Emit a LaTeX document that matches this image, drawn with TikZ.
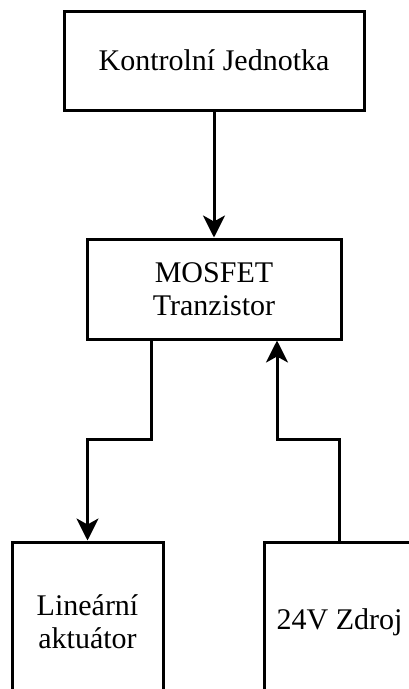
\documentclass[tikz,border=0pt]{standalone}
\usepackage{fontspec}
\setmainfont{Liberation Serif}
\usetikzlibrary{arrows.meta}
\begin{document}
\begin{tikzpicture}[x=1pt,y=-1pt,
  box/.style={draw, line width=3pt, align=center, inner sep=0pt,
    font=\fontsize{30}{33}\selectfont},
  conn/.style={line width=3pt, -{Stealth[length=22pt,width=22pt,inset=6pt]}}]
\useasboundingbox (0,0) rectangle (408,689);
\node[box, minimum width=300pt, minimum height=99pt] (ctrl) at (214,60.5) {Kontrolní Jednotka};
\node[box, minimum width=254pt, minimum height=100pt] (mos) at (214,289) {MOSFET\\Tranzistor};
\node[box, minimum width=151pt, minimum height=160pt] (lin) at (87.5,622) {Lineární\\aktuátor};
\node[box, minimum width=151pt, minimum height=160pt] (src) at (339.5,622) {24V Zdroj};
\coordinate (a1) at (151,439);
\coordinate (a2) at (87.5,439);
\coordinate (b1) at (277,439);
\draw[conn] (ctrl) -- (mos);
\draw[conn] (mos.south -| a1) -- (a1) -- (a2) -- (lin.north);
\draw[conn] (src.north) |- (b1) -- (b1 |- mos.south);
\end{tikzpicture}
\end{document}
